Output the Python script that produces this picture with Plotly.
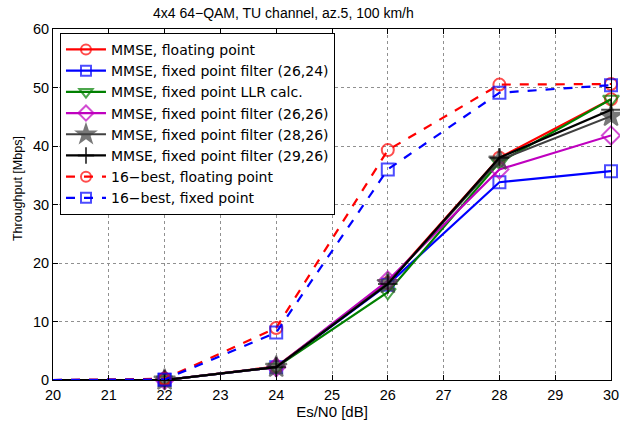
import plotly.graph_objects as go

snr = [20, 22, 24, 26, 28, 30]
mmse_float = [0, 0, 2.3, 16.6, 38.0, 48.0]
mmse_fix_26_24 = [0, 0, 2.2, 16.3, 33.8, 35.7]
mmse_fix_llr = [0, 0, 2.2, 15.0, 37.2, 48.0]
mmse_fix_26_26 = [0, 0, 2.2, 17.0, 36.0, 41.8]
mmse_fix_28_26 = [0, 0, 2.2, 16.5, 37.6, 45.1]
mmse_fix_29_26 = [0, 0, 2.2, 16.4, 38.0, 46.2]
best16_float = [0, 0.2, 8.9, 39.3, 50.5, 50.6]
best16_fix = [0, 0.1, 8.1, 36.0, 49.1, 50.4]

names = [
    "MMSE, floating point",
    "MMSE, fixed point filter (26,24)",
    "MMSE, fixed point LLR calc.",
    "MMSE, fixed point filter (26,26)",
    "MMSE, fixed point filter (28,26)",
    "MMSE, fixed point filter (29,26)",
    "16\u2212best, floating point",
    "16\u2212best, fixed point",
]
series = [mmse_float, mmse_fix_26_24, mmse_fix_llr, mmse_fix_26_26,
          mmse_fix_28_26, mmse_fix_29_26, best16_float, best16_fix]
colors = ["#ff0000", "#0000ff", "#008000", "#bf00bf", "#404040", "#000000", "#ff0000", "#0000ff"]
symbols = ["circle-open", "square-open", "triangle-down-open", "diamond-open",
           "star", "cross-thin-open", "circle-open", "square-open"]
dashes = ["solid"] * 6 + ["dash", "dash"]

fig = go.Figure()
for name, ys, c, s, d in zip(names, series, colors, symbols, dashes):
    size = 16 if s == "star" else (14 if s in ("cross-thin-open", "triangle-down-open", "diamond-open") else 12)
    fig.add_trace(go.Scatter(
        x=snr, y=ys, name=name, mode="lines+markers",
        line=dict(color=c, width=2.2, dash=d),
        marker=dict(symbol=s, size=[0] + [size] * (len(snr) - 1), color=c,
                    line=dict(color=c, width=2)),
        cliponaxis=False,
    ))

axis_common = dict(
    showline=True, linecolor="black", linewidth=1, mirror="ticks",
    ticks="inside", ticklen=5, tickcolor="black",
    showgrid=True, gridcolor="#909090", griddash="dot", gridwidth=1,
    zeroline=False, tickfont=dict(size=14.5, color="black"), automargin=False,
)

fig.update_layout(
    width=620, height=424,
    margin=dict(l=53, r=9, t=29, b=44),
    paper_bgcolor="white", plot_bgcolor="white",
    font=dict(family="Liberation Sans, Arial, sans-serif", color="black", size=13),
    title=dict(text="4x4 64\u2212QAM, TU channel, az.5, 100 km/h", x=0.457, xanchor="center",
               y=0.97, yanchor="middle", font=dict(size=14)),
    xaxis=dict(range=[20, 30], dtick=1, ticklabelstandoff=2,
               title=dict(text="Es/N0 [dB]", font=dict(size=15), standoff=0),
               **axis_common),
    yaxis=dict(range=[0, 60], dtick=10, **axis_common),
    legend=dict(x=0.0125, y=0.989, xanchor="left", yanchor="top",
                bgcolor="white", bordercolor="black", borderwidth=1,
                font=dict(size=14, family="DejaVu Sans"), tracegroupgap=0, itemwidth=40),
    showlegend=True,
)
fig.add_annotation(text="Throughput [Mbps]", xref="paper", yref="paper",
                   x=-0.0627, y=0.544, xanchor="center", yanchor="middle",
                   textangle=-90, showarrow=False, font=dict(size=12.5))

fig.write_html("out.html", config={"displayModeBar": False},
               post_script="document.body.style.margin='0';document.body.style.overflow='hidden';")
